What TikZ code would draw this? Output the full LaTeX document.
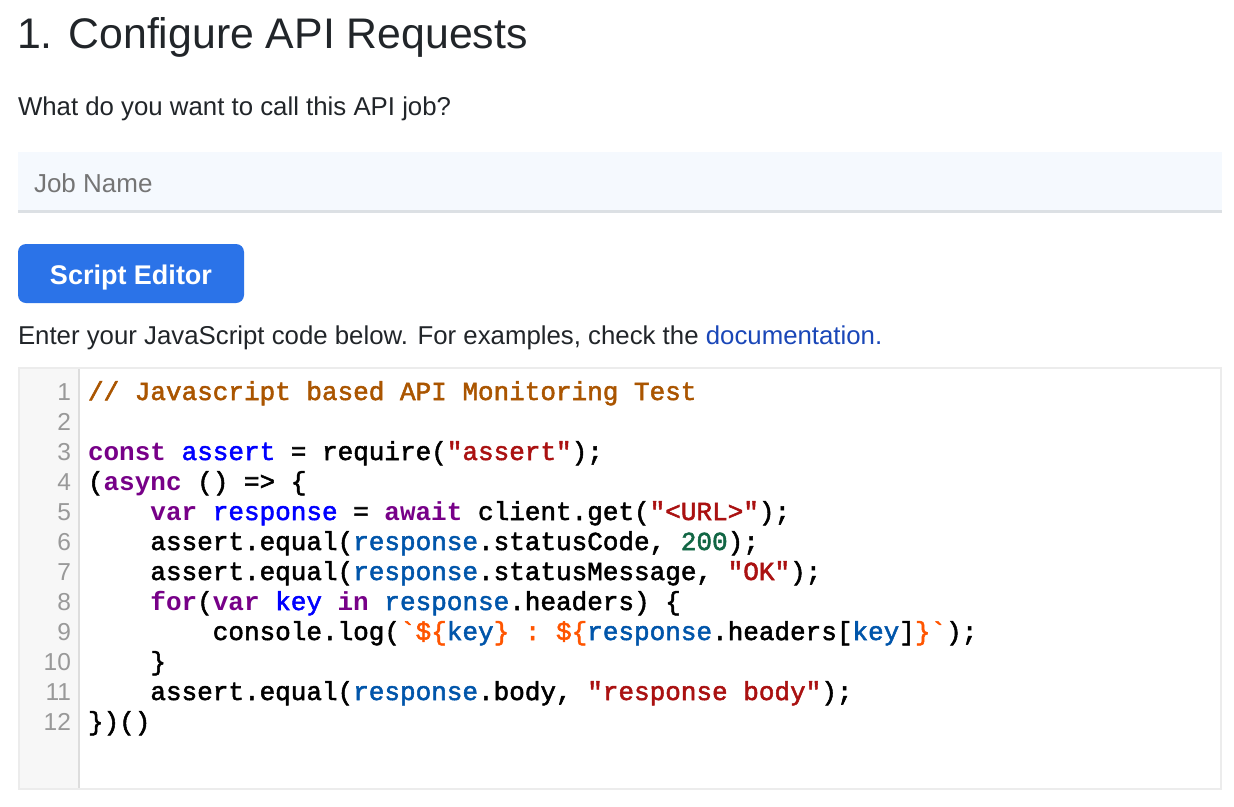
\documentclass[tikz,border=0pt]{standalone}
\usepackage{fontspec}
\setmainfont{Liberation Sans}
\setmonofont{Liberation Mono}[UprightFeatures={FakeBold=2}]
\definecolor{ink}{RGB}{33,37,41}
\definecolor{placeholder}{RGB}{117,117,117}
\definecolor{fieldbg}{RGB}{245,249,254}
\definecolor{fieldline}{RGB}{220,224,228}
\definecolor{btnblue}{RGB}{43,115,232}
\definecolor{linkblue}{RGB}{26,71,184}
\definecolor{boxborder}{RGB}{236,236,236}
\definecolor{guttergray}{RGB}{247,247,247}
\definecolor{gutterline}{RGB}{221,221,221}
\definecolor{numgray}{RGB}{153,153,153}
\definecolor{kwc}{RGB}{119,0,136}
\definecolor{defc}{RGB}{0,0,255}
\definecolor{varc}{RGB}{0,85,170}
\definecolor{strc}{RGB}{170,17,17}
\definecolor{numc}{RGB}{17,102,68}
\definecolor{tplc}{RGB}{255,85,0}
\definecolor{cmtc}{RGB}{170,85,0}
\newcommand\ckw[1]{\textcolor{kwc}{\bfseries #1}}
\newcommand\cdf[1]{\textcolor{defc}{#1}}
\newcommand\cvr[1]{\textcolor{varc}{#1}}
\newcommand\cst[1]{\textcolor{strc}{#1}}
\newcommand\cnm[1]{\textcolor{numc}{#1}}
\newcommand\ctp[1]{\textcolor{tplc}{#1}}
\newcommand\ccm[1]{\textcolor{cmtc}{#1}}
\begin{document}
\begin{tikzpicture}[x=1pt,y=-1pt,
  txt/.style={anchor=base west,inner sep=0pt,outer sep=0pt,text=ink},
  body/.style={txt,font=\fontsize{25.8}{30}\selectfont},
  code/.style={anchor=base west,inner sep=0pt,outer sep=0pt,text=black,font=\ttfamily\fontsize{26}{30}\selectfont},
  lnum/.style={anchor=base east,inner sep=0pt,outer sep=0pt,text=numgray,font=\fontsize{24.5}{28}\selectfont}]
\useasboundingbox (0,0) rectangle (1234,806);
\fill[white] (0,0) rectangle (1234,806);
% heading and question
\node[txt,font=\fontsize{42.8}{50}\selectfont] (title) at (17,48) {1. Configure API Requests};
\node[body] (question) at (18,115) {What do you want to call this API job?};
% input field
\fill[fieldbg] (18,152) rectangle (1222,210);
\fill[fieldline] (18,210) rectangle (1222,212.5);
\node[txt,text=placeholder,font=\fontsize{26}{30}\selectfont] (jobname) at (34,192) {Job Name};
% button
\fill[btnblue,rounded corners=8pt] (18,244) rectangle (244,303);
\node[anchor=base,inner sep=0pt,text=white,font=\bfseries\fontsize{27}{32}\selectfont] (btn) at (131,284) {Script Editor};
% hint
\node[body] (hint) at (18,344) {Enter your JavaScript code below. For examples, check the \textcolor{linkblue}{documentation.}};
% editor
\fill[guttergray] (19,367.5) rectangle (79,789);
\draw[gutterline,line width=2pt] (79,368.5) -- (79,788);
\draw[boxborder,line width=2pt] (19,367.5) rectangle (1221,789);
\foreach \n in {1,...,12} {
  \node[lnum] (ln\n) at (71,{400+30*(\n-1)}) {\n};
}
\node[code] (c1) at (88,400) {\ccm{// Javascript based API Monitoring Test}};
\node[code] (c3) at (88,460) {\ckw{const} \cdf{assert} = require(\cst{"assert"});};
\node[code] (c4) at (88,490) {(\ckw{async} () => \{};
\node[code] (c5) at (150.4,520) {\ckw{var} \cdf{response} = \ckw{await} client.get(\cst{"<URL>"});};
\node[code] (c6) at (150.4,550) {assert.equal(\cvr{response}.statusCode, \cnm{200});};
\node[code] (c7) at (150.4,580) {assert.equal(\cvr{response}.statusMessage, \cst{"OK"});};
\node[code] (c8) at (150.4,610) {\ckw{for}(\ckw{var} \cdf{key} \ckw{in} \cvr{response}.headers) \{};
\node[code] (c9) at (212.8,640) {console.log(\ctp{`\$\{}\cvr{key}\ctp{\} : \$\{}\cvr{response}.headers[\cvr{key}]\ctp{\}`});};
\node[code] (c10) at (150.4,670) {\}};
\node[code] (c11) at (150.4,700) {assert.equal(\cvr{response}.body, \cst{"response body"});};
\node[code] (c12) at (88,730) {\})()};
\end{tikzpicture}
\end{document}
